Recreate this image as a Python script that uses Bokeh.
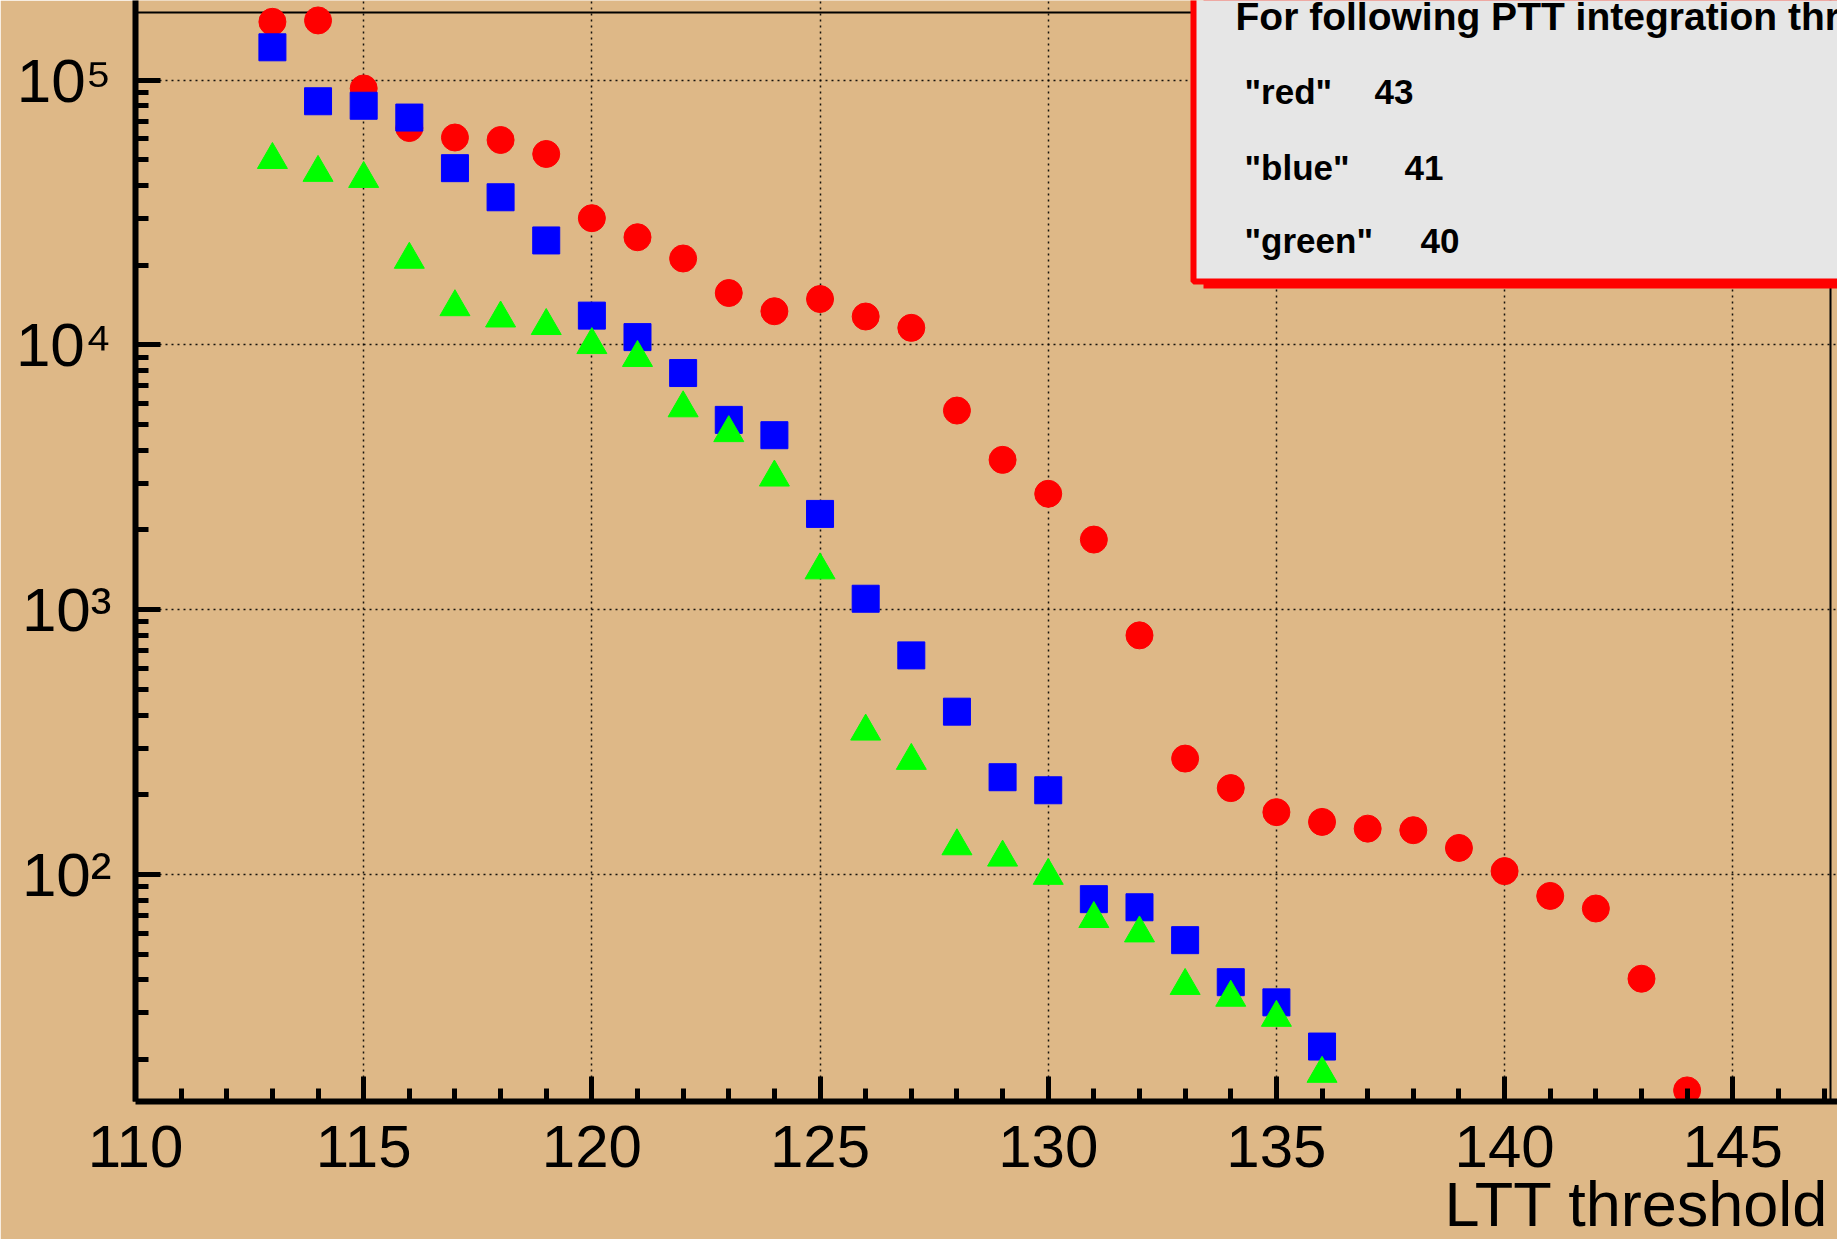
import math
from bokeh.plotting import figure
from bokeh.models import FixedTicker, Span, Label, Title
from bokeh.embed import file_html
from bokeh.resources import INLINE

# ---------------- data ----------------
red_x = [113, 114, 115, 116, 117, 118, 119, 120, 121, 122, 123, 124, 125, 126, 127, 128,
         129, 130, 131, 132, 133, 134, 135, 136, 137, 138, 139, 140, 141, 142, 143, 144]
red_y = [166000, 168000, 93000, 65900, 60700, 59400, 52600, 30100, 25500, 21200, 15700,
         13400, 14900, 12800, 11600, 5650, 3680, 2740, 1840, 800, 274, 212, 172, 158,
         149, 147, 126, 103, 83, 74.4, 40.4, 15.3]

blue_x = [113, 114, 115, 116, 117, 118, 119, 120, 121, 122, 123, 124, 125, 126, 127, 128,
          129, 130, 131, 132, 133, 134, 135, 136]
blue_y = [133000, 83200, 80000, 72200, 46500, 36100, 24800, 12900, 10700, 7830, 5210,
          4560, 2300, 1100, 672, 412, 233, 208, 80.7, 75.2, 56.5, 39.2, 32.9, 22.4]

green_x = [113, 114, 115, 116, 117, 118, 119, 120, 121, 122, 123, 124, 125, 126, 127, 128,
           129, 130, 131, 132, 133, 134, 135, 136]
green_y = [50000, 44700, 42400, 21000, 13900, 12600, 11800, 10000, 8940, 5770, 4650,
           3160, 1410, 347, 269, 128, 116, 99, 68, 60, 38, 34.3, 28.8, 17.7]

x_major_ticks = [110, 115, 120, 125, 130, 135, 140, 145]
y_major_ticks = [100, 1000, 10000, 100000]
y_tick_labels = ["10\u00b2", "10\u00b3", "10\u2074", "10\u2075"]

legend_title = "For following PTT integration thresholds:"
legend_names = ['"red"', '"blue"', '"green"']
legend_values = ["43", "41", "40"]

x_label = "LTT threshold"

# ---------------- layout ----------------
W, H = 1837, 1239
FL, FR, FT, FB = 135, 1837, 0, 1101          # frame edges in canvas pixels
PX_PER_X = 45.636                             # pixels per x unit
PX_PER_DEC = 264.8                            # pixels per decade
Y100_PX = 874                                 # pixel row of 10^2

X0 = 110
X1 = X0 + (FR - FL) / PX_PER_X
LY0 = 2 - (FB - Y100_PX) / PX_PER_DEC
LY1 = 2 + (Y100_PX - FT) / PX_PER_DEC
Y0, Y1 = 10 ** LY0, 10 ** LY1

def px_x(px):
    return X0 + (px - FL) / PX_PER_X

def px_y(py):
    return 10 ** (2 + (Y100_PX - py) / PX_PER_DEC)

BG = "#deb887"
FONT = "Liberation Sans"

p = figure(width=W, height=H, y_axis_type="log",
           x_range=(X0, X1), y_range=(Y0, Y1),
           output_backend="svg", toolbar_location=None,
           min_border_left=FL, min_border_right=W - FR,
           min_border_top=FT, min_border_bottom=H - FB)

p.background_fill_color = BG
p.border_fill_color = BG
p.outline_line_color = None

x_minor = [v for v in range(111, 148) if v % 5 != 0]
y_minor = [m * 10 ** e for e in range(1, 6) for m in range(2, 10)
           if Y0 <= m * 10 ** e <= Y1]

p.xaxis.ticker = FixedTicker(ticks=x_major_ticks, minor_ticks=x_minor)
p.yaxis.ticker = FixedTicker(ticks=y_major_ticks, minor_ticks=y_minor)
p.yaxis.major_label_overrides = dict(zip(y_major_ticks, y_tick_labels))

for ax in (p.xaxis, p.yaxis):
    ax.axis_line_width = 6
    ax.axis_line_color = "black"
    ax.major_tick_line_width = 5
    ax.minor_tick_line_width = 5
    ax.major_tick_line_color = "black"
    ax.minor_tick_line_color = "black"
    ax.major_tick_in = 25
    ax.major_tick_out = 0
    ax.minor_tick_in = 13
    ax.minor_tick_out = 0
    ax.major_label_text_font = FONT
    ax.major_label_text_color = "black"

p.xaxis.major_label_text_font_size = "60px"
p.xaxis.major_label_standoff = 24
p.yaxis.major_label_text_font_size = "62px"
p.yaxis.major_label_standoff = 24

# x-axis title, right aligned under the axis
p.add_layout(Title(text=x_label, align="right", offset=9, standoff=-6,
                   vertical_align="bottom", text_font=FONT, text_font_size="63px",
                   text_font_style="normal", text_color="black"), "below")

for g in (p.xgrid, p.ygrid):
    g.grid_line_color = "black"
    g.grid_line_dash = "2 4"
    g.grid_line_width = 1.5
    g.grid_line_alpha = 0.9

# top / right frame lines (under the legend box)
p.add_layout(Span(location=px_y(12), dimension="width", line_color="black",
                  line_width=2, level="underlay"))
p.add_layout(Span(location=px_x(1830), dimension="height", line_color="black",
                  line_width=2, level="underlay"))

# data markers
p.scatter(red_x, red_y, marker="circle", size=27, fill_color="#ff0000", line_color="#ff0000")
p.scatter(blue_x, blue_y, marker="square", size=27, fill_color="#0000ff", line_color="#0000ff")
p.scatter(green_x, green_y, marker="triangle", size=30, fill_color="#00ff00", line_color="#00ff00")

# legend pave (shadow + box)
p.quad(left=[px_x(1203)], right=[X1 + 5], bottom=[px_y(288)], top=[Y1 * 10],
       fill_color="#ff0000", line_color=None)
p.quad(left=[px_x(1193)], right=[X1 + 5], bottom=[px_y(281)], top=[Y1 * 10],
       fill_color="#e6e6e6", line_color="#ff0000", line_width=6)

p.add_layout(Label(x=px_x(1235), y=px_y(16), text=legend_title,
                   text_font=FONT, text_font_size="39px", text_font_style="bold",
                   text_baseline="middle", text_align="left", text_color="black"))

row_mid = [91, 167, 240]
val_left = [1374, 1404, 1420]
for name, val, my, vx in zip(legend_names, legend_values, row_mid, val_left):
    p.add_layout(Label(x=px_x(1244), y=px_y(my), text=name,
                       text_font=FONT, text_font_size="35px", text_font_style="bold",
                       text_baseline="middle", text_align="left", text_color="black"))
    p.add_layout(Label(x=px_x(vx), y=px_y(my), text=val,
                       text_font=FONT, text_font_size="35px", text_font_style="bold",
                       text_baseline="middle", text_align="left", text_color="black"))

open("out.html", "w").write(file_html(p, INLINE))
